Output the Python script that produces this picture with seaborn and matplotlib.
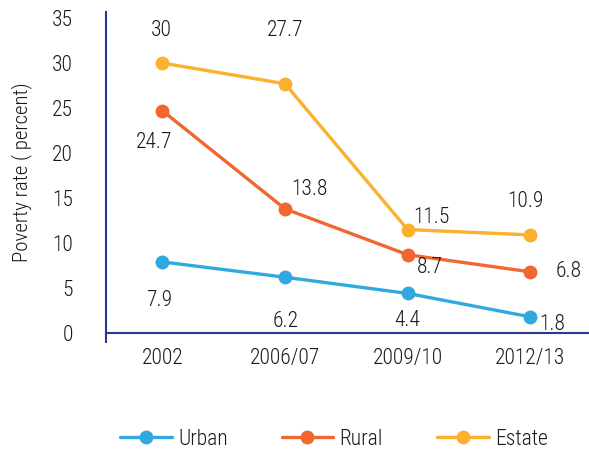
import matplotlib
matplotlib.use("Agg")
import matplotlib.pyplot as plt
import seaborn as sns
import pandas as pd

periods = ["2002", "2006/07", "2009/10", "2012/13"]
urban = [7.9, 6.2, 4.4, 1.8]
rural = [24.7, 13.8, 8.7, 6.8]
estate = [30, 27.7, 11.5, 10.9]
series_names = ["Urban", "Rural", "Estate"]
colors = {"Urban": "#31a9e0", "Rural": "#f2662f", "Estate": "#fbb02e"}

df = pd.DataFrame({
    "period": periods * 3,
    "rate": urban + rural + estate,
    "area": [n for n in series_names for _ in periods],
})

sns.set_theme(style="white")
plt.rcParams["font.family"] = ["Roboto Condensed", "Roboto", "DejaVu Sans"]
plt.rcParams["font.weight"] = "light"
plt.rcParams["axes.labelweight"] = "light"
text_color = "#1a1a1a"

fig = plt.figure(figsize=(5.89, 4.54), dpi=100)
ax = fig.add_axes([0.18, 0.2665, 0.82, 0.707])

sns.lineplot(data=df, x="period", y="rate", hue="area", palette=colors,
             marker="o", markersize=10, markeredgewidth=0, linewidth=2.4,
             ax=ax, sort=False)

ax.set_xlim(-0.46, 3.48)
ax.set_ylim(0, 35.67)
ax.set_yticks(range(0, 36, 5))
ax.set_xlabel("")
ax.set_ylabel("Poverty rate ( percent)", fontsize=15, color=text_color,
              labelpad=14, fontweight="light")
ax.tick_params(axis="both", labelsize=15.5, length=0, labelcolor=text_color)
ax.tick_params(axis="x", pad=11)
ax.tick_params(axis="y", pad=24)

navy = "#2b3990"
for side in ["top", "right"]:
    ax.spines[side].set_visible(False)
for side in ["left", "bottom"]:
    ax.spines[side].set_color(navy)
    ax.spines[side].set_linewidth(1.5)
# short stub of the left spine below the x axis
ax.plot([0, 0], [0, -0.03], transform=ax.transAxes, color=navy, lw=1.5,
        clip_on=False, solid_capstyle="butt")

# value labels, offsets in pixels from each point
offsets = {
    "Urban": [(-3, -39), (1, -44), (0, -27), (22, -8)],
    "Rural": [(-8, -32), (24, 19), (22, -13), (38, 0)],
    "Estate": [(-1, 33), (0, 53), (24, 12), (-5, 33)],
}
values = {"Urban": urban, "Rural": rural, "Estate": estate}
for name in series_names:
    for i, v in enumerate(values[name]):
        ax.annotate(f"{v:g}", (i, v), xytext=offsets[name][i],
                    textcoords="offset pixels", ha="center", va="center",
                    fontsize=15.5, color=text_color)

handles, labels = ax.get_legend_handles_labels()
ax.legend(handles, labels, loc="center", bbox_to_anchor=(0.567, 0.033),
          bbox_transform=fig.transFigure, ncol=3, frameon=False,
          fontsize=15.5, handlelength=2.4, columnspacing=2.5, handletextpad=0.3,
          labelcolor=text_color)

fig.savefig("out.png", dpi=100)
